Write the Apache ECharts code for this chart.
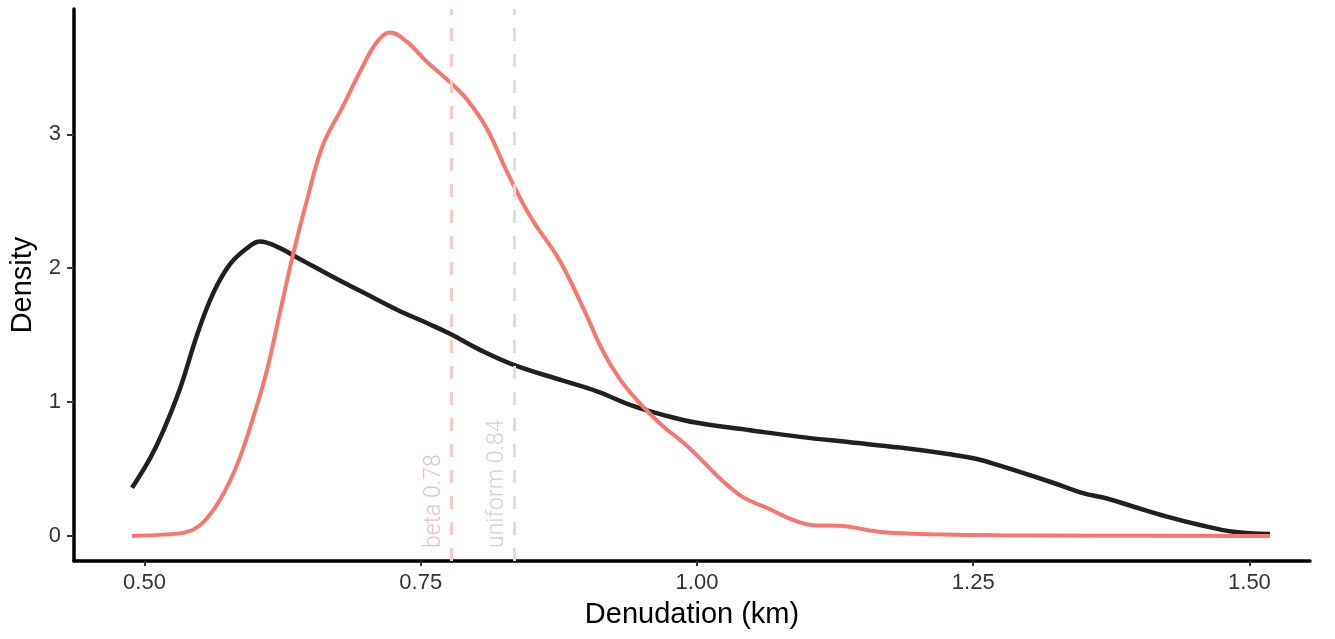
<!DOCTYPE html>
<html><head><meta charset="utf-8">
<script src="https://cdn.jsdelivr.net/npm/echarts@6/dist/echarts.min.js"></script>
<style>html,body{margin:0;padding:0;background:#fff}#c{width:1335px;height:639px}</style>
</head><body><div id="c"></div>
<script>
// ---- data ----
const xTicks = [0.5, 0.75, 1.0, 1.25, 1.5];
const yTicks = [0, 1, 2, 3];
const uniformX = [0.4887,0.5050,0.5167,0.5321,0.5475,0.5620,0.5774,0.5928,0.6045,0.6226,0.6380,0.6561,0.6742,0.6977,0.7285,0.7584,0.7765,0.8036,0.8335,0.8787,0.9095,0.9394,0.9692,1.0000,1.0480,1.0932,1.1385,1.1837,1.2290,1.2534,1.2742,1.3195,1.3493,1.3710,1.3946,1.4253,1.4552,1.4851,1.5186];
const uniformY = [0.36,0.58,0.78,1.10,1.50,1.81,2.03,2.15,2.20,2.15,2.08,2.00,1.92,1.82,1.69,1.58,1.51,1.39,1.28,1.16,1.08,0.98,0.905,0.845,0.79,0.74,0.70,0.66,0.61,0.575,0.525,0.405,0.32,0.28,0.22,0.144,0.082,0.032,0.014];
const betaX = [0.4887,0.5167,0.5385,0.5529,0.5683,0.5837,0.5982,0.6109,0.6226,0.6344,0.6471,0.6615,0.6796,0.6977,0.7104,0.7222,0.7376,0.7557,0.7765,0.7919,0.8100,0.8281,0.8489,0.8733,0.8851,0.9005,0.9149,0.9303,0.9484,0.9692,0.9873,1.0027,1.0208,1.0416,1.0633,1.0869,1.1050,1.1321,1.1538,1.1719,1.2136,1.2742,1.3647,1.5186];
const betaY = [0,0.01,0.03,0.10,0.27,0.53,0.88,1.24,1.67,2.10,2.51,2.92,3.21,3.51,3.69,3.76,3.69,3.54,3.39,3.26,3.04,2.72,2.39,2.09,1.91,1.64,1.38,1.17,0.99,0.82,0.70,0.58,0.43,0.29,0.21,0.12,0.08,0.075,0.045,0.025,0.013,0.005,0.002,0];
const refNames = ['beta', 'uniform'];
const refValues = [0.7777, 0.835];
const refLabels = ['beta 0.78', 'uniform 0.84'];

// ---- chart ----
const zip = (xs, ys) => xs.map((x, i) => [x, ys[i]]);
const refStyles = [
  {line: '#ffc8c5', text: '#e8c3c0'},
  {line: '#dedede', text: '#d2d2d2'}
];
const chart = echarts.init(document.getElementById('c'), null, {renderer: 'canvas'});
const tickFont = {fontFamily: 'Liberation Sans, Arial, sans-serif', fontSize: 22, color: '#333'};
chart.setOption({
  animation: false,
  backgroundColor: '#fff',
  grid: {left: 74, right: 25, top: 9, bottom: 78, containLabel: false},
  xAxis: {
    type: 'value', min: 0.4362, max: 1.5548,
    name: 'Denudation (km)', nameLocation: 'middle', nameGap: 39,
    nameTextStyle: {fontFamily: 'Liberation Sans, Arial, sans-serif', fontSize: 29, color: '#000'},
    axisLine: {show: true, onZero: false, lineStyle: {color: '#000', width: 3.5}},
    axisTick: {show: true, customValues: xTicks, length: 5, lineStyle: {color: '#333', width: 2}},
    axisLabel: Object.assign({customValues: xTicks, margin: 11, formatter: v => v.toFixed(2)}, tickFont),
    splitLine: {show: false}
  },
  yAxis: {
    type: 'value', min: -0.187, max: 3.936,
    name: 'Density', nameLocation: 'middle', nameGap: 36,
    nameTextStyle: {fontFamily: 'Liberation Sans, Arial, sans-serif', fontSize: 29, color: '#000'},
    axisLine: {show: true, onZero: false, lineStyle: {color: '#000', width: 3.5}},
    axisTick: {show: true, customValues: yTicks, length: 7, lineStyle: {color: '#333', width: 2}},
    axisLabel: Object.assign({customValues: yTicks, margin: 13, formatter: v => String(v)}, tickFont),
    splitLine: {show: false}
  },
  series: [
    {
      type: 'line', data: [], z: 1, silent: true,
      markLine: {
        silent: true, symbol: 'none', animation: false, precision: 6,
        data: refValues.map((v, i) => ({
          name: refNames[i], xAxis: v,
          lineStyle: {color: refStyles[i].line, type: [13, 13], width: 3},
          label: {show: true, formatter: refLabels[i], position: 'insideStartTop',
            fontFamily: 'Roboto, Liberation Sans, sans-serif', fontWeight: 300, fontSize: 23,
            color: refStyles[i].text, distance: [13, 6]}
        }))
      }
    },
    {
      name: 'uniform', type: 'line', data: zip(uniformX, uniformY), smooth: 0.4,
      showSymbol: false, z: 3, lineStyle: {color: '#231f20', width: 4.5}
    },
    {
      name: 'beta', type: 'line', data: zip(betaX, betaY), smooth: 0.4,
      showSymbol: false, z: 4, lineStyle: {color: '#f8766d', width: 4}
    }
  ]
});
</script></body></html>
